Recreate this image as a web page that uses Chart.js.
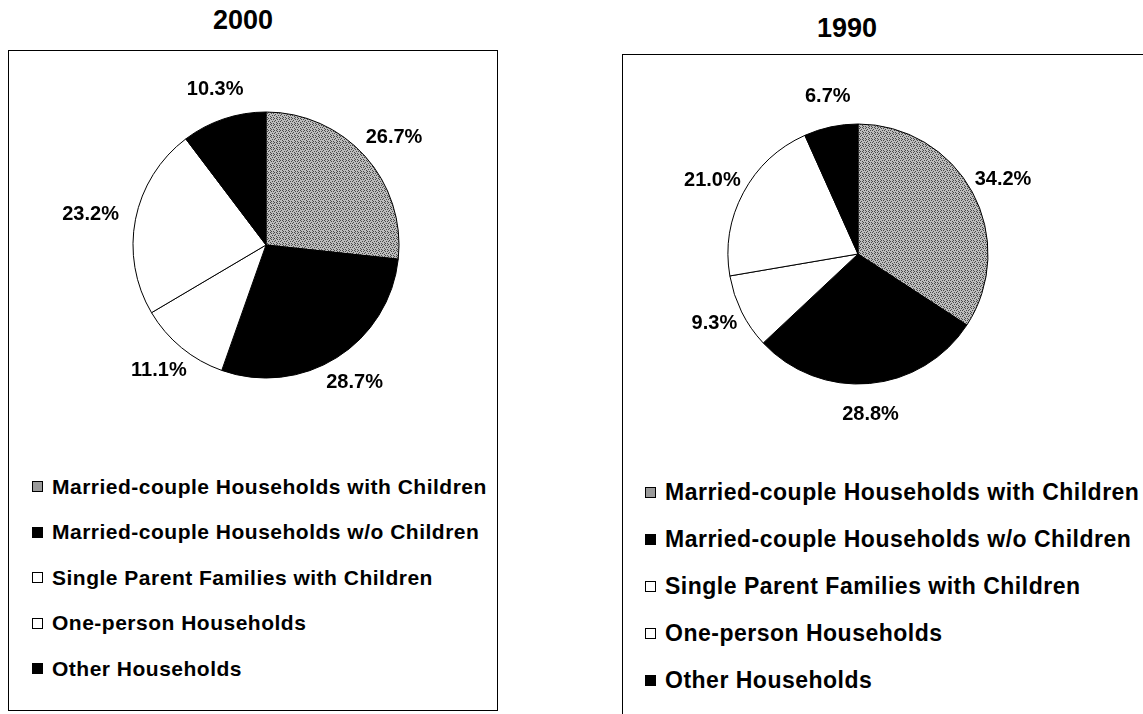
<!DOCTYPE html>
<html>
<head>
<meta charset="utf-8">
<script src="https://cdn.jsdelivr.net/npm/chart.js@4.4.0/dist/chart.umd.min.js"></script>
<style>
    body { margin: 0; background: #fff; width: 1143px; height: 714px; position: relative; overflow: hidden;
           font-family: "Liberation Sans", Arial, sans-serif; color: #000; }
    .title { position: absolute; font-weight: bold; font-size: 27px; width: 200px; text-align: center; line-height: 30px; }
    .box { position: absolute; border: 1px solid #000; box-sizing: border-box; }
    .pie { position: absolute; width: 440px; height: 350px; }
    .legend { position: absolute; font-weight: bold; letter-spacing: 0.5px; }
    .legend .row { display: flex; align-items: center; white-space: nowrap; }
    .legend .sw { width: 9px; height: 9px; border: 1px solid #000; margin-right: 9px; flex: none; }
</style>
</head>
<body>
<div class="title" style="left:143px; top:5px;">2000</div>
<div class="title" style="left:747px; top:13px;">1990</div>
<div class="box" style="left:8px; top:50px; width:490px; height:661px;"></div>
<div class="box" style="left:622px; top:54px; width:540px; height:680px;"></div>
<div class="pie" style="left:46px; top:70px;"><canvas id="pie2000"></canvas></div>
<div class="pie" style="left:638px; top:79px;"><canvas id="pie1990"></canvas></div>
<div class="legend" id="legend2000" style="left:32px; top:464px; font-size:21px;"></div>
<div class="legend" id="legend1990" style="left:645px; top:469px; font-size:23px;"></div>

<script>
const categories = [
    'Married-couple Households with Children',
    'Married-couple Households w/o Children',
    'Single Parent Families with Children',
    'One-person Households',
    'Other Households'
];
const share2000 = [26.7, 28.7, 11.1, 23.2, 10.3];
const share1990 = [34.2, 28.8, 9.3, 21.0, 6.7];

// stippled grey fill like the old print
function makeStipple() {
    const c = document.createElement('canvas');
    c.width = 6; c.height = 6;
    const g = c.getContext('2d');
    g.fillStyle = '#bdbdbd';
    g.fillRect(0, 0, 6, 6);
    g.fillStyle = '#4a4a4a';
    [[0,0],[3,1],[1,2],[4,3],[2,4],[5,5],[0,3],[3,5],[5,1],[2,0]].forEach(p => g.fillRect(p[0], p[1], 1, 1));
    return g.createPattern(c, 'repeat');
}
const stipple = makeStipple();
const fills = [stipple, '#000', '#fff', '#fff', '#000'];
const swatches = ['#9a9a9a', '#000', '#fff', '#fff', '#000'];

const outsideLabels = {
    id: 'outsideLabels',
    afterDatasetsDraw(chart) {
        const ctx = chart.ctx;
        const meta = chart.getDatasetMeta(0);
        const values = chart.data.datasets[0].data;
        const opts = chart.options.plugins.outsideLabels;
        ctx.save();
        ctx.font = 'bold ' + opts.size + 'px "Liberation Sans", Arial, sans-serif';
        ctx.fillStyle = '#000';
        ctx.textAlign = 'center';
        ctx.textBaseline = 'middle';
        meta.data.forEach((arc, i) => {
            const text = values[i].toFixed(1) + '%';
            const a = (arc.startAngle + arc.endAngle) / 2;
            const hw = ctx.measureText(text).width / 2;
            const hh = opts.size * 0.45;
            const dx = arc.outerRadius + opts.gapX + hw;
            const dy = arc.outerRadius + opts.gapY + hh;
            // place along an ellipse a bit wider than the pie
            ctx.fillText(text, arc.x + Math.cos(a) * (arc.outerRadius + opts.gapX + Math.abs(Math.cos(a)) * hw),
                               arc.y + Math.sin(a) * (arc.outerRadius + opts.gapY + Math.abs(Math.sin(a)) * hh));
        });
        ctx.restore();
    }
};

function makePie(id, values, radius, labelSize, gapX, gapY) {
    return new Chart(document.getElementById(id), {
        type: 'pie',
        data: {
            labels: categories,
            datasets: [{
                data: values,
                backgroundColor: fills,
                borderColor: '#000',
                borderWidth: 1,
                radius: radius,
                hoverOffset: 0
            }]
        },
        options: {
            responsive: true,
            maintainAspectRatio: false,
            animation: false,
            layout: { padding: 0 },
            plugins: {
                legend: { display: false },
                tooltip: { enabled: false },
                outsideLabels: { size: labelSize, gapX: gapX, gapY: gapY }
            }
        },
        plugins: [outsideLabels]
    });
}

function makeLegend(id, rowHeight) {
    const el = document.getElementById(id);
    categories.forEach((name, i) => {
        const row = document.createElement('div');
        row.className = 'row';
        row.style.height = rowHeight + 'px';
        const sw = document.createElement('span');
        sw.className = 'sw';
        sw.style.background = swatches[i];
        row.appendChild(sw);
        row.appendChild(document.createTextNode(name));
        el.appendChild(row);
    });
}

makePie('pie2000', share2000, 133, 20, 18, 22);
makePie('pie1990', share1990, 130, 20, 10, 22);
makeLegend('legend2000', 45.5);
makeLegend('legend1990', 47);
</script>
</body>
</html>
